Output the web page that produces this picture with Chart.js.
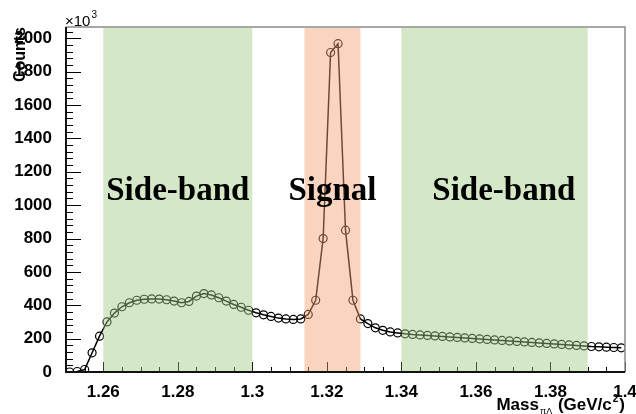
<!DOCTYPE html>
<html><head><meta charset="utf-8">
<script src="https://cdn.jsdelivr.net/npm/chart.js@4/dist/chart.umd.min.js"></script>
<style>html,body{margin:0;padding:0;background:#fff}#wrap{width:636px;height:414px}</style>
</head><body><div id="wrap"><canvas id="c" width="636" height="414"></canvas></div>
<script>
// ---- data ----
const massBins = [1.251,1.253,1.255,1.257,1.259,1.261,1.263,1.265,1.267,1.269,1.271,1.273,1.275,1.277,1.279,1.281,1.283,1.285,1.287,1.289,1.291,1.293,1.295,1.297,1.299,1.301,1.303,1.305,1.307,1.309,1.311,1.313,1.315,1.317,1.319,1.321,1.323,1.325,1.327,1.329,1.331,1.333,1.335,1.337,1.339,1.341,1.343,1.345,1.347,1.349,1.351,1.353,1.355,1.357,1.359,1.361,1.363,1.365,1.367,1.369,1.371,1.373,1.375,1.377,1.379,1.381,1.383,1.385,1.387,1.389,1.391,1.393,1.395,1.397,1.399];
const counts = [0,3,15,115,215,300,353,391,415,430,436,438,437,433,425,415,423,455,470,462,445,425,405,388,370,355,343,333,323,318,315,318,345,430,800,1915,1968,850,430,318,290,265,250,240,234,229,225,222,219,216,213,210,207,204,201,198,195,192,189,186,183,180,177,174,171,168,165,162,159,156,153,151,149,147,145];
const xTickValues = [1.26,1.28,1.30,1.32,1.34,1.36,1.38,1.40];
const xTickLabels = ['1.26','1.28','1.3','1.32','1.34','1.36','1.38','1.4'];
const yTickValues = [0,200,400,600,800,1000,1200,1400,1600,1800,2000];
const yTickLabels = ['0','200','400','600','800','1000','1200','1400','1600','1800','2000'];
const bandRanges = [[1.26,1.30],[1.314,1.329],[1.34,1.39]];
const bandNames = ['Side-band','Signal','Side-band'];
const bandLabelX = [1.28,1.3215,1.3675];
const bandLabelY = 1030;
const xMin = 1.25, xMax = 1.40, yMin = 0, yMax = 2068;

// minor tick positions (axis decoration)
const xMinor = []; for (let i = 0; i <= 30; i++) xMinor.push(+(xMin + i*0.005).toFixed(3));
const yMinor = []; for (let v = 0; v <= yMax; v += 40) yMinor.push(v);

const bandColors = ['rgba(160,202,130,0.45)','rgba(242,160,110,0.45)','rgba(160,202,130,0.45)'];
const SANS = '"Liberation Sans", Arial, sans-serif';

const deco = {
  id: 'deco',
  afterDatasetsDraw(chart) {
    const ctx = chart.ctx, a = chart.chartArea;
    const xs = chart.scales.x, ys = chart.scales.y;
    ctx.save();
    // inward tick marks
    ctx.strokeStyle = '#000'; ctx.lineWidth = 1;
    ctx.beginPath();
    xMinor.forEach(v => {
      const px = Math.round(xs.getPixelForValue(v)) + 0.5;
      const major = xTickValues.some(t => Math.abs(t - v) < 1e-6);
      ctx.moveTo(px, a.bottom); ctx.lineTo(px, a.bottom - (major ? 10 : 5));
    });
    yMinor.forEach(v => {
      const py = Math.round(ys.getPixelForValue(v)) + 0.5;
      const major = yTickValues.includes(v);
      ctx.moveTo(a.left, py); ctx.lineTo(a.left + (major ? 15 : 7), py);
    });
    ctx.stroke();
    // translucent bands over the data
    bandRanges.forEach((r, i) => {
      const x0 = xs.getPixelForValue(r[0]), x1 = xs.getPixelForValue(r[1]);
      ctx.fillStyle = bandColors[i];
      ctx.fillRect(x0, a.top + 1, x1 - x0, a.bottom - a.top - 1);
    });
    // frame
    ctx.strokeStyle = '#8a8a8a'; ctx.lineWidth = 1.5;
    ctx.beginPath();
    ctx.moveTo(a.left, a.top); ctx.lineTo(a.right, a.top); ctx.lineTo(a.right, a.bottom);
    ctx.stroke();
    ctx.strokeStyle = '#111'; ctx.lineWidth = 2;
    ctx.beginPath();
    ctx.moveTo(a.left, a.top); ctx.lineTo(a.left, a.bottom); ctx.lineTo(a.right, a.bottom);
    ctx.stroke();
    // band labels
    ctx.fillStyle = '#000';
    ctx.font = 'bold 33px "Liberation Serif", "DejaVu Serif", serif';
    ctx.textAlign = 'center'; ctx.textBaseline = 'alphabetic';
    bandNames.forEach((n, i) => {
      ctx.fillText(n, xs.getPixelForValue(bandLabelX[i]), ys.getPixelForValue(bandLabelY));
    });
    // exponent label
    ctx.textAlign = 'left';
    ctx.font = '15px ' + SANS;
    ctx.fillText('\u00d710', a.left - 1, a.top - 1);
    const w10 = ctx.measureText('\u00d710').width;
    ctx.font = '10px ' + SANS;
    ctx.fillText('3', a.left - 1 + w10 + 1, a.top - 9);
    // x-axis title, right aligned
    const parts = [
      {t: 'Mass', f: 'bold 17px ' + SANS, dy: 0},
      {t: '\u03c0\u039b', f: '9px ' + SANS, dy: 4},
      {t: ' (GeV/c', f: 'bold 17px ' + SANS, dy: 0},
      {t: '2', f: 'bold 10px ' + SANS, dy: -8},
      {t: ')', f: 'bold 17px ' + SANS, dy: 0}
    ];
    let total = 0;
    parts.forEach(p => { ctx.font = p.f; p.w = ctx.measureText(p.t).width; total += p.w + 1; });
    let x = a.right - total + 1;
    const base = 410;
    parts.forEach(p => { ctx.font = p.f; ctx.fillText(p.t, x, base + p.dy); x += p.w + 1; });
    ctx.restore();
  }
};

const tickFont = {family: SANS, size: 17, weight: 'bold'};

new Chart(document.getElementById('c'), {
  type: 'line',
  data: {
    datasets: [{
      data: massBins.map((m, i) => ({x: m, y: counts[i]})),
      borderColor: '#000',
      borderWidth: 1.5,
      pointStyle: 'circle',
      pointRadius: 4,
      pointBorderWidth: 1.2,
      pointBorderColor: '#000',
      pointBackgroundColor: 'rgba(0,0,0,0)',
      tension: 0,
      fill: false
    }]
  },
  options: {
    responsive: false,
    animation: false,
    devicePixelRatio: 1,
    layout: {padding: {top: 27, right: 11, left: 0, bottom: 0}},
    plugins: {legend: {display: false}, tooltip: {enabled: false}},
    scales: {
      x: {
        type: 'linear', min: xMin, max: xMax,
        afterBuildTicks: s => { s.ticks = xTickValues.map(v => ({value: v})); },
        afterFit: s => { s.height = 42; s.paddingLeft = 0; s.paddingRight = 0; },
        ticks: {
          callback: (v, i) => xTickLabels[i],
          font: tickFont, color: '#000', padding: 2,
          maxRotation: 0, autoSkip: false
        },
        grid: {display: false},
        border: {display: false}
      },
      y: {
        min: yMin, max: yMax,
        afterBuildTicks: s => { s.ticks = yTickValues.map(v => ({value: v})); },
        afterFit: s => { s.width = 66; },
        ticks: {
          callback: (v, i) => yTickLabels[i],
          font: tickFont, color: '#000', padding: 6
        },
        grid: {display: false},
        border: {display: false},
        title: {
          display: true, text: 'Counts', align: 'end', color: '#000',
          font: {family: SANS, size: 16, weight: 'bold'},
          padding: {top: 11, bottom: 0}
        }
      }
    }
  },
  plugins: [deco]
});
</script>
</body></html>
